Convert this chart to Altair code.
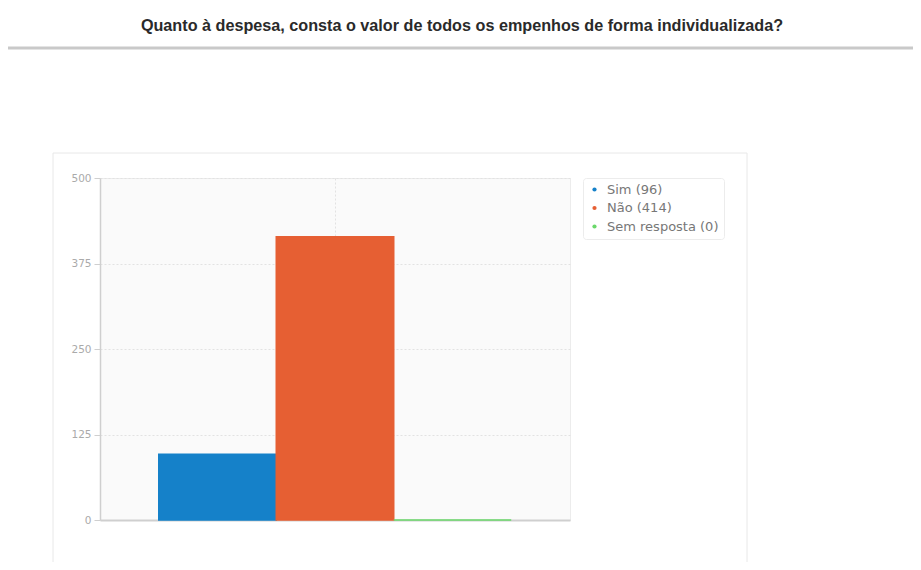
import altair as alt
import pandas as pd

# Data
categories = ["Sim", "Não", "Sem resposta"]
counts = [96, 414, 0]
colors = ["#1581c9", "#e65f33", "#6ad86a"]
y_ticks = [0, 125, 250, 375, 500]
title_text = "Quanto à despesa, consta o valor de todos os empenhos de forma individualizada?"

labels = [f"{c} ({v})" for c, v in zip(categories, counts)]
df = pd.DataFrame({"cat": categories, "value": counts, "label": labels})
one = pd.DataFrame({"k": [0]})

frame = alt.Chart(one).mark_rect(fillOpacity=0, stroke="#e8e8e8", strokeWidth=1).encode(
    x=alt.value(-47), x2=alt.value(647), y=alt.value(-25), y2=alt.value(390)
)

header_line = alt.Chart(one).mark_rule(color="#c9c9c9", strokeWidth=3).encode(
    x=alt.value(-93), x2=alt.value(813), y=alt.value(-130)
)

title = alt.Chart(one).mark_text(
    font="Liberation Sans", fontSize=16.2, fontWeight="bold", color="#2a2a2a",
    align="center", baseline="middle"
).encode(x=alt.value(362), y=alt.value(-152), text=alt.value(title_text))

bars = alt.Chart(df).mark_bar(strokeWidth=1.5).encode(
    x=alt.X(
        "cat:N", sort=categories, title=None,
        scale=alt.Scale(paddingInner=0, paddingOuter=0.5),
        axis=alt.Axis(
            labels=False, ticks=False, values=["Não"], grid=True, bandPosition=0.5,
            gridColor="#e2e2e2", gridDash=[2, 2], domainColor="#cfcfcf", domainWidth=2,
        ),
    ),
    y=alt.Y(
        "value:Q", title=None,
        scale=alt.Scale(domain=[0, 500], nice=False),
        axis=alt.Axis(
            values=y_ticks, grid=True, gridColor="#e2e2e2", gridDash=[2, 2],
            domainColor="#cfcfcf", domainWidth=1.5, tickColor="#cfcfcf", tickSize=6,
            labelColor="#aaaaaa", labelFont="DejaVu Sans", labelFontSize=10.5, labelPadding=3,
        ),
    ),
    color=alt.Color(
        "label:N", sort=labels, scale=alt.Scale(domain=labels, range=colors),
        legend=alt.Legend(
            title=None, orient="none", legendX=483, legendY=0, symbolType="circle",
            symbolSize=18, symbolStrokeWidth=0, labelFont="DejaVu Sans", labelFontSize=13,
            labelColor="#777777", rowPadding=4.5, padding=5, labelOffset=6,
            strokeColor="#ececec", fillColor="white", cornerRadius=3,
        ),
    ),
    stroke=alt.Stroke("label:N", sort=labels, scale=alt.Scale(domain=labels, range=colors), legend=None),
)

chart = alt.layer(frame, header_line, title, bars).properties(
    width=470, height=342,
    autosize=alt.AutoSizeParams(type="none"),
    padding={"left": 92, "top": 170, "right": 343, "bottom": 42},
).configure_view(fill="#fafafa", stroke="#ececec")

chart.save("out.html", embed_options={"renderer": "svg", "actions": False})
